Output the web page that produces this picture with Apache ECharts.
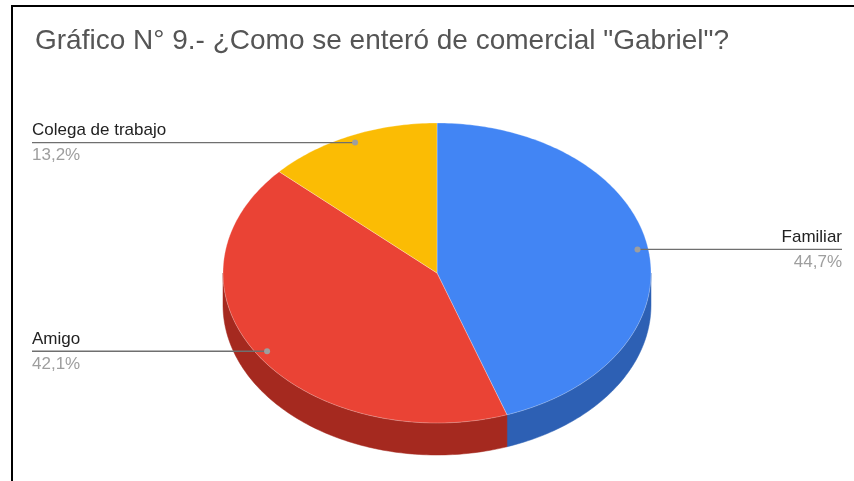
<!DOCTYPE html>
<html>
<head>
<meta charset="utf-8">
<script src="https://cdn.jsdelivr.net/npm/echarts@6/dist/echarts.min.js"></script>
<style>
  html, body { margin: 0; padding: 0; background: #ffffff; }
  #chart { width: 854px; height: 481px; }
</style>
</head>
<body>
<div id="chart"></div>
<script>
// Survey answers: how people heard about the shop
const categories = ['Familiar', 'Amigo', 'Colega de trabajo'];
const shares = [44.7, 42.1, 13.2];

// Slice palette (top face / darker side wall)
const topColors = ['#4285f4', '#ea4335', '#fbbc04'];
const sideColors = ['#2d60b4', '#a5291f', '#b3860a'];

const FONT = '"Liberation Sans", Arial, sans-serif';

// Tilted-pie geometry in pixels
const CX = 437, CY = 273, RX = 214, RY = 150, DEPTH = 32;
const LABEL_LEFT = 32, LABEL_RIGHT = 842;

const total = shares.reduce((a, b) => a + b, 0);

// angle in degrees, clockwise from 12 o'clock
function pt(deg, f, dy) {
  const r = deg * Math.PI / 180;
  return [CX + RX * f * Math.sin(r), CY - RY * f * Math.cos(r) + (dy || 0)];
}
function arc(a0, a1, dy) {
  const pts = [];
  const n = Math.max(2, Math.ceil(Math.abs(a1 - a0)));
  for (let k = 0; k <= n; k++) pts.push(pt(a0 + (a1 - a0) * k / n, 1, dy));
  return pts;
}
function pctText(v) {
  return (v / total * 100).toFixed(1).replace('.', ',') + '%';
}

function renderSlice(params, api) {
  const i = params.dataIndex;
  const v = api.value(0);
  let before = 0;
  for (let k = 0; k < i; k++) before += shares[k];
  const a0 = before / total * 360;
  const a1 = (before + v) / total * 360;
  const children = [];

  // visible side wall (front half of the disc: 90..270 deg)
  const s = Math.max(a0, 90), e = Math.min(a1, 270);
  if (e > s) {
    const top = arc(s, e, 0);
    const bottom = arc(e, s, DEPTH);
    children.push({
      type: 'polygon', z2: 1,
      shape: { points: top.concat(bottom) },
      style: { fill: sideColors[i], stroke: sideColors[i], lineWidth: 0.5 }
    });
  }

  // top face
  children.push({
    type: 'polygon', z2: 10,
    shape: { points: [[CX, CY]].concat(arc(a0, a1, 0)) },
    style: { fill: topColors[i], stroke: 'rgba(255,255,255,0.35)', lineWidth: 0.8 }
  });

  // leader line, dot and labels
  const mid = (a0 + a1) / 2;
  const dot = pt(mid, 0.95, 0);
  const right = Math.sin(mid * Math.PI / 180) > 0;
  const lx = right ? LABEL_RIGHT : LABEL_LEFT;
  children.push({
    type: 'line', z2: 20,
    shape: { x1: dot[0], y1: dot[1], x2: lx, y2: dot[1] },
    style: { stroke: '#6f6f6f', lineWidth: 1.3 }
  });
  children.push({
    type: 'circle', z2: 21,
    shape: { cx: dot[0], cy: dot[1], r: 3 },
    style: { fill: '#9e9e9e' }
  });
  children.push({
    type: 'text', z2: 22,
    x: lx, y: dot[1] - 12,
    style: {
      text: categories[i], fill: '#222222', font: '17px ' + FONT,
      align: right ? 'right' : 'left', verticalAlign: 'middle'
    }
  });
  children.push({
    type: 'text', z2: 22,
    x: lx, y: dot[1] + 13,
    style: {
      text: pctText(v), fill: '#9e9e9e', font: '17px ' + FONT,
      align: right ? 'right' : 'left', verticalAlign: 'middle'
    }
  });

  return { type: 'group', children: children };
}

const chart = echarts.init(document.getElementById('chart'), null, { renderer: 'canvas' });
chart.setOption({
  backgroundColor: '#ffffff',
  animation: false,
  title: {
    text: 'Gráfico N° 9.- ¿Como se enteró de comercial "Gabriel"?',
    left: 35, top: 27, padding: 0,
    textStyle: { fontFamily: FONT, fontSize: 28, fontWeight: 'normal', color: '#555555' }
  },
  graphic: [
    { type: 'line', shape: { x1: 12, y1: 6, x2: 12, y2: 481 }, style: { stroke: '#000', lineWidth: 2 } },
    { type: 'line', shape: { x1: 11, y1: 6, x2: 854, y2: 6 }, style: { stroke: '#000', lineWidth: 2 } }
  ],
  series: [{
    type: 'custom',
    coordinateSystem: 'none',
    renderItem: renderSlice,
    data: shares.map(v => [v])
  }]
});
</script>
</body>
</html>
